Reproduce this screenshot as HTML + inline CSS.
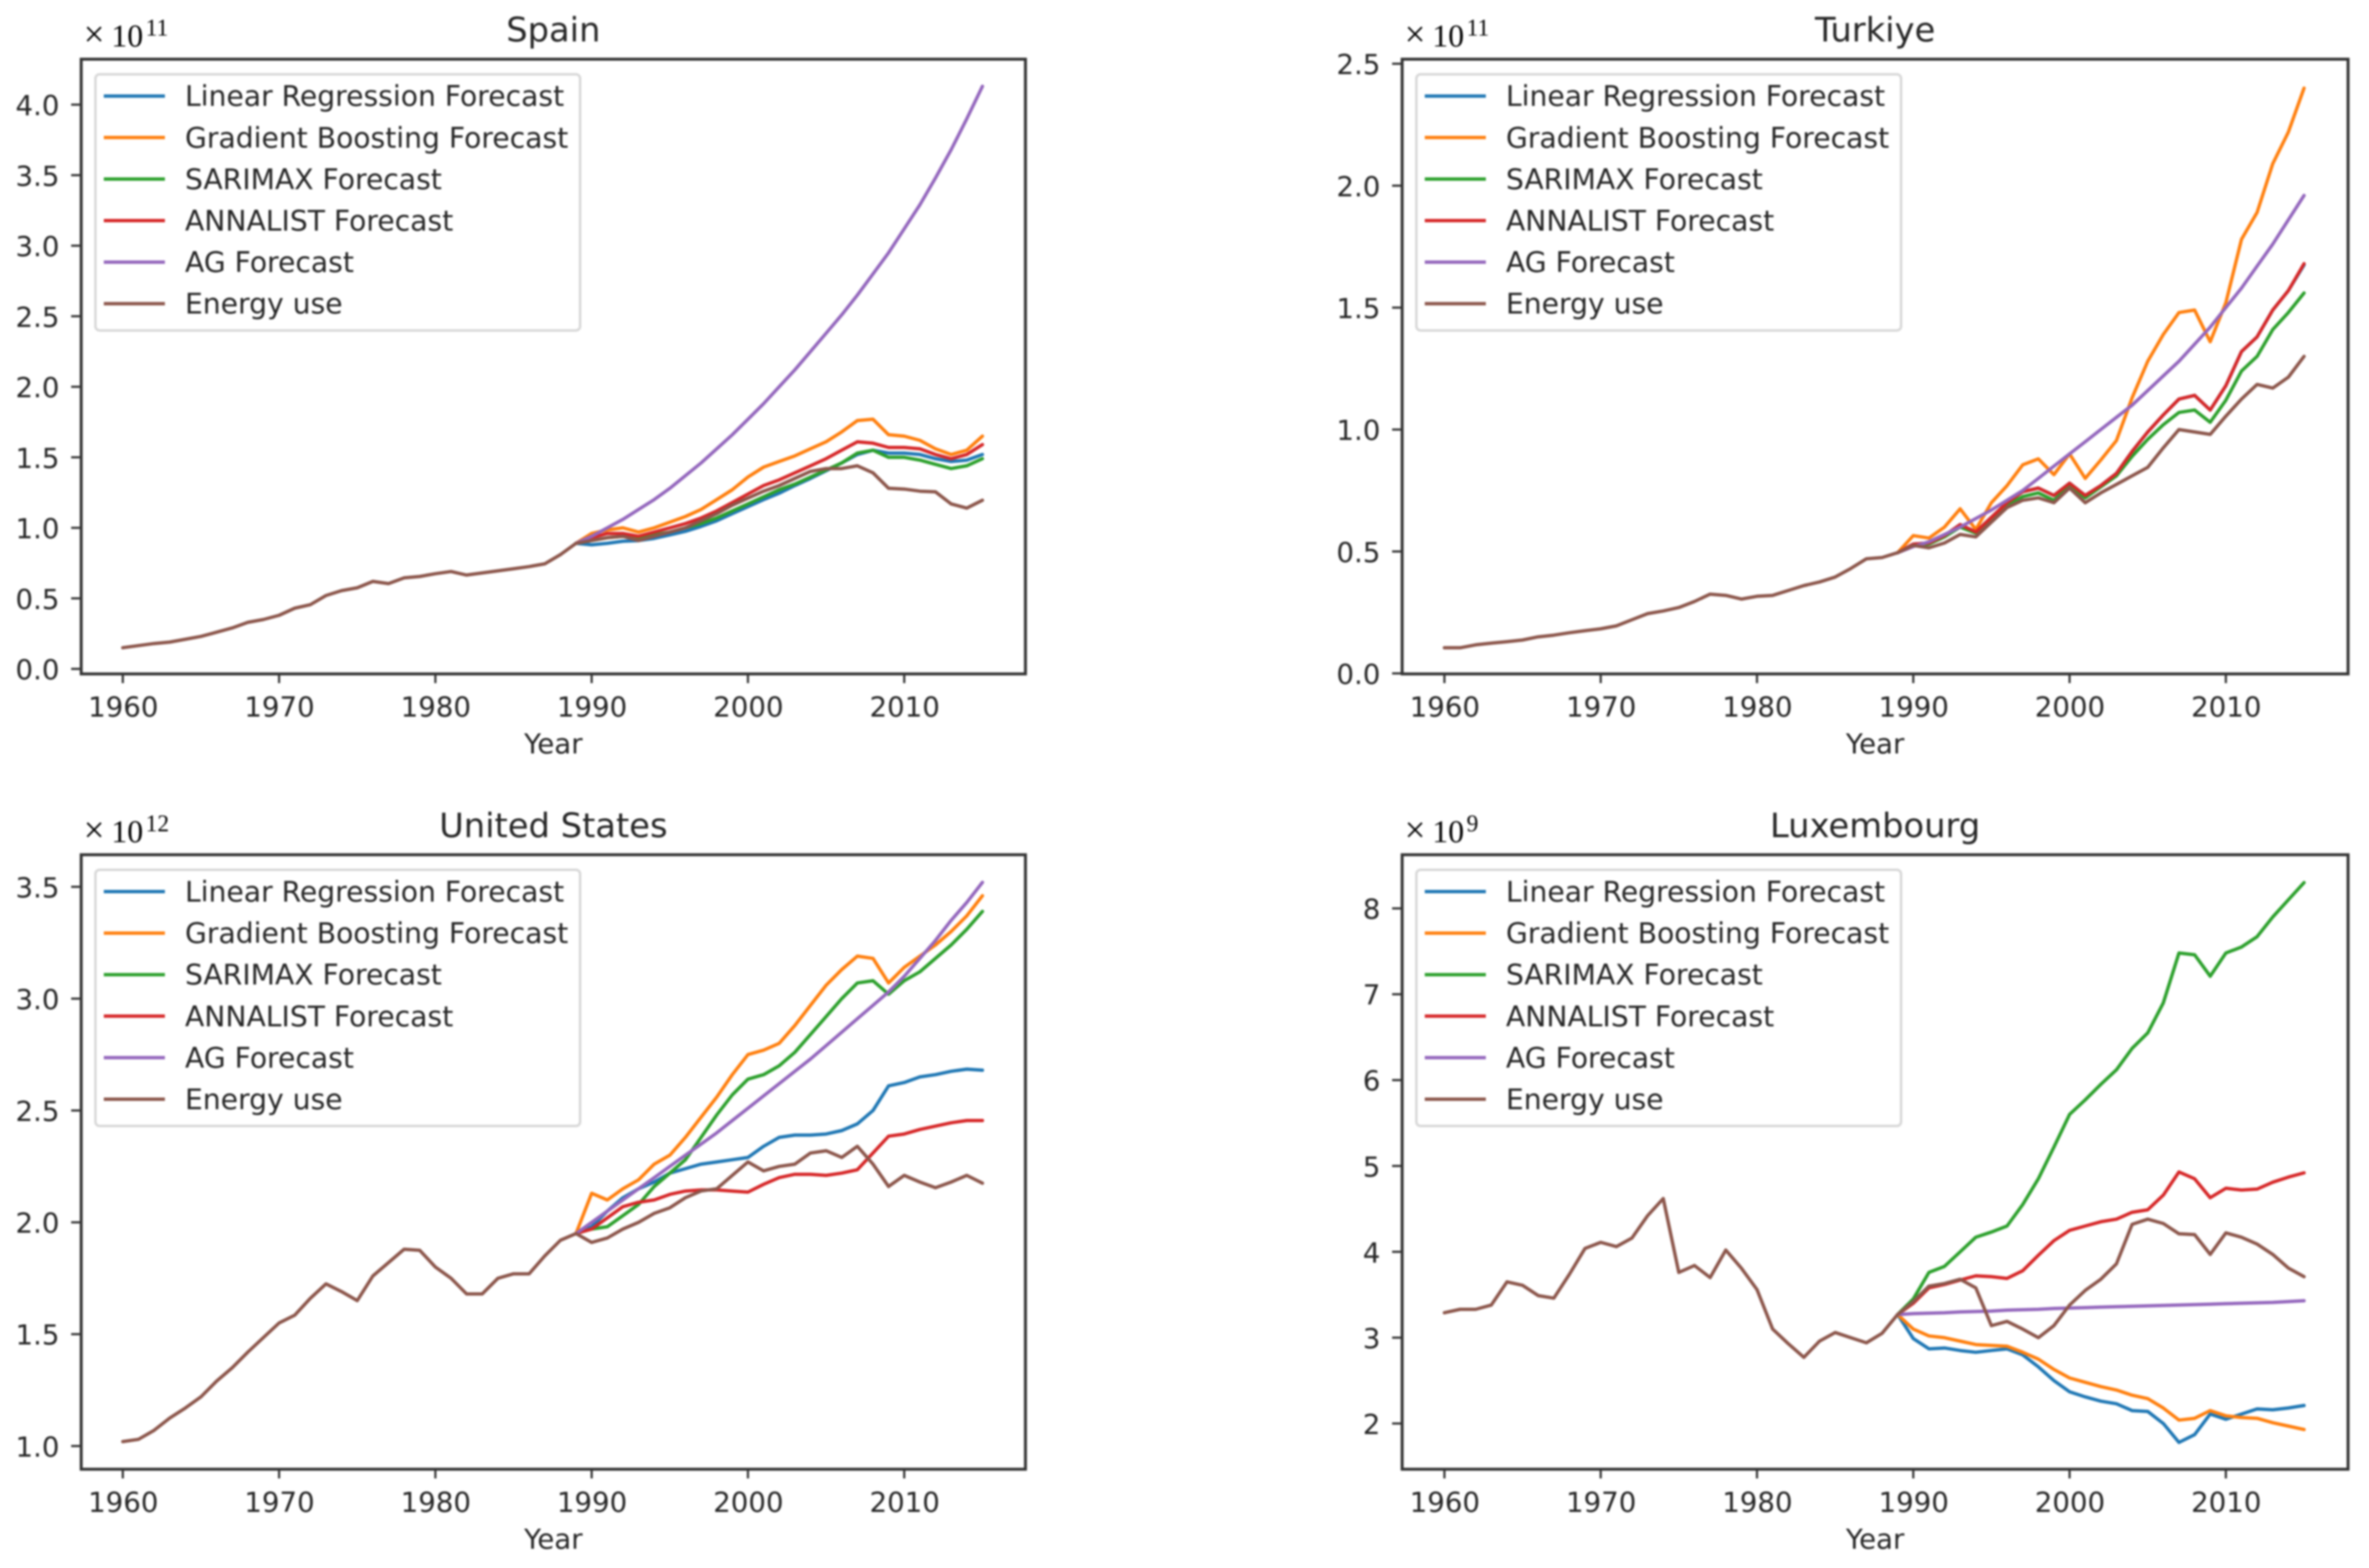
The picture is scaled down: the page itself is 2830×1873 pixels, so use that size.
<!DOCTYPE html>
<html lang="en">
<head>
<meta charset="utf-8">
<title>Energy use forecasts</title>
<style>
html,body{margin:0;padding:0;background:#fff;}
#figure{display:block;width:2830px;height:1873px;background:#fff;filter:blur(1px);}
text{font-family:"DejaVu Sans","Liberation Sans",sans-serif;fill:#262626;}
.mult{font-family:"Liberation Serif",serif;fill:#000;}
</style>
</head>
<body>
<svg id="figure" xmlns="http://www.w3.org/2000/svg" width="2830" height="1873" viewBox="0 0 2830 1873"></svg>
<script>
const years = [1960,1961,1962,1963,1964,1965,1966,1967,1968,1969,1970,1971,1972,1973,1974,1975,1976,1977,1978,1979,1980,1981,1982,1983,1984,1985,1986,1987,1988,1989,1990,1991,1992,1993,1994,1995,1996,1997,1998,1999,2000,2001,2002,2003,2004,2005,2006,2007,2008,2009,2010,2011,2012,2013,2014,2015];
const forecastYears = [1989,1990,1991,1992,1993,1994,1995,1996,1997,1998,1999,2000,2001,2002,2003,2004,2005,2006,2007,2008,2009,2010,2011,2012,2013,2014,2015];
const xTickLabels = [1960,1970,1980,1990,2000,2010];
const seriesNames = ["Linear Regression Forecast","Gradient Boosting Forecast","SARIMAX Forecast","ANNALIST Forecast","AG Forecast","Energy use"];

const spainTicks = ["0.0","0.5","1.0","1.5","2.0","2.5","3.0","3.5","4.0"];
const spainLinear = [0.89,0.88,0.89,0.905,0.91,0.925,0.95,0.975,1.01,1.05,1.10,1.15,1.20,1.245,1.30,1.35,1.405,1.46,1.52,1.55,1.53,1.53,1.52,1.49,1.47,1.48,1.52];
const spainGradient = [0.89,0.96,0.985,1.0,0.97,1.0,1.04,1.08,1.13,1.20,1.27,1.36,1.43,1.47,1.51,1.56,1.61,1.68,1.76,1.77,1.66,1.65,1.62,1.56,1.52,1.55,1.65];
const spainSarimax = [0.89,0.91,0.93,0.94,0.92,0.95,0.97,1.00,1.03,1.07,1.12,1.17,1.22,1.27,1.31,1.36,1.41,1.46,1.53,1.55,1.50,1.50,1.48,1.45,1.42,1.44,1.49];
const spainAnnalist = [0.89,0.93,0.96,0.96,0.94,0.97,1.00,1.03,1.07,1.12,1.18,1.24,1.30,1.34,1.39,1.44,1.49,1.55,1.61,1.60,1.57,1.57,1.56,1.52,1.49,1.52,1.59];
const spainAg = [0.89,0.94,1.0,1.06,1.13,1.2,1.28,1.37,1.46,1.56,1.66,1.77,1.88,2.0,2.12,2.25,2.38,2.51,2.65,2.80,2.95,3.12,3.29,3.48,3.68,3.90,4.13];
const spainEnergy = [0.15,0.165,0.18,0.19,0.21,0.23,0.26,0.29,0.33,0.35,0.38,0.43,0.455,0.52,0.555,0.575,0.62,0.605,0.645,0.655,0.675,0.69,0.665,0.68,0.695,0.71,0.725,0.745,0.81,0.89,0.91,0.93,0.94,0.91,0.94,0.97,1.00,1.05,1.10,1.16,1.21,1.26,1.30,1.35,1.40,1.42,1.42,1.44,1.39,1.28,1.275,1.26,1.255,1.17,1.14,1.195];

const turkiyeTicks = ["0.0","0.5","1.0","1.5","2.0","2.5"];
const turkiyeLinear = [0.495,0.53,0.535,0.565,0.61,0.58,0.64,0.70,0.745,0.76,0.73,0.78,0.73,0.77,0.82,0.91,0.99,1.06,1.125,1.14,1.08,1.18,1.32,1.38,1.49,1.57,1.675];
const turkiyeGradient = [0.495,0.565,0.555,0.60,0.675,0.59,0.70,0.77,0.855,0.88,0.815,0.90,0.80,0.875,0.955,1.13,1.28,1.39,1.48,1.49,1.36,1.52,1.78,1.89,2.09,2.22,2.40];
const turkiyeSarimax = [0.495,0.525,0.53,0.56,0.60,0.575,0.63,0.69,0.725,0.74,0.71,0.77,0.72,0.765,0.81,0.89,0.96,1.02,1.07,1.08,1.03,1.12,1.24,1.30,1.41,1.48,1.56];
const turkiyeAnnalist = [0.495,0.53,0.535,0.565,0.61,0.58,0.64,0.70,0.745,0.76,0.73,0.78,0.73,0.77,0.82,0.91,0.99,1.06,1.125,1.14,1.08,1.18,1.32,1.38,1.49,1.57,1.68];
const turkiyeAg = [0.495,0.52,0.54,0.57,0.60,0.635,0.67,0.71,0.75,0.80,0.85,0.90,0.95,1.0,1.05,1.10,1.16,1.22,1.28,1.35,1.42,1.50,1.58,1.67,1.76,1.86,1.96];
const turkiyeEnergy = [0.105,0.105,0.117,0.124,0.13,0.137,0.15,0.157,0.167,0.175,0.183,0.195,0.22,0.245,0.256,0.27,0.295,0.325,0.32,0.305,0.316,0.32,0.34,0.36,0.375,0.395,0.43,0.47,0.475,0.495,0.525,0.515,0.535,0.57,0.56,0.62,0.68,0.71,0.72,0.70,0.76,0.70,0.74,0.775,0.81,0.845,0.925,1.0,0.99,0.98,1.055,1.125,1.185,1.17,1.215,1.30];

const usTicks = ["1.0","1.5","2.0","2.5","3.0","3.5"];
const usLinear = [1.95,1.98,2.05,2.11,2.15,2.18,2.22,2.24,2.26,2.27,2.28,2.29,2.34,2.38,2.39,2.39,2.395,2.41,2.44,2.50,2.61,2.625,2.65,2.66,2.675,2.685,2.68];
const usGradient = [1.95,2.13,2.10,2.15,2.19,2.26,2.30,2.38,2.47,2.56,2.66,2.75,2.77,2.80,2.88,2.97,3.06,3.13,3.19,3.18,3.07,3.14,3.19,3.24,3.30,3.37,3.46];
const usSarimax = [1.95,1.97,1.98,2.03,2.08,2.16,2.22,2.28,2.38,2.48,2.57,2.64,2.66,2.70,2.76,2.84,2.92,3.00,3.07,3.08,3.02,3.08,3.12,3.18,3.24,3.31,3.39];
const usAnnalist = [1.95,1.97,2.02,2.07,2.09,2.10,2.125,2.14,2.145,2.145,2.14,2.135,2.17,2.20,2.215,2.215,2.21,2.22,2.235,2.31,2.385,2.395,2.415,2.43,2.445,2.455,2.455];
const usAg = [1.95,2.0,2.05,2.10,2.15,2.2,2.25,2.3,2.35,2.4,2.455,2.51,2.565,2.62,2.675,2.73,2.79,2.85,2.91,2.97,3.03,3.10,3.18,3.26,3.35,3.43,3.52];
const usEnergy = [1.02,1.03,1.07,1.125,1.17,1.22,1.29,1.35,1.42,1.485,1.55,1.585,1.66,1.725,1.69,1.65,1.76,1.82,1.88,1.875,1.80,1.75,1.68,1.68,1.75,1.77,1.77,1.85,1.92,1.95,1.91,1.93,1.97,2.0,2.04,2.065,2.11,2.14,2.15,2.21,2.27,2.23,2.25,2.26,2.31,2.32,2.29,2.34,2.26,2.16,2.21,2.18,2.155,2.18,2.21,2.175];

const luxTicks = ["2","3","4","5","6","7","8"];
const luxLinear = [3.27,2.99,2.87,2.88,2.85,2.83,2.85,2.87,2.80,2.66,2.50,2.37,2.31,2.26,2.23,2.15,2.14,2.00,1.78,1.87,2.11,2.05,2.11,2.17,2.16,2.18,2.21];
const luxGradient = [3.27,3.10,3.02,3.00,2.96,2.92,2.91,2.90,2.83,2.75,2.63,2.53,2.48,2.43,2.39,2.33,2.29,2.18,2.04,2.06,2.15,2.09,2.07,2.06,2.01,1.97,1.93];
const luxSarimax = [3.27,3.45,3.76,3.83,4.0,4.17,4.23,4.30,4.55,4.85,5.22,5.60,5.77,5.95,6.12,6.37,6.55,6.90,7.48,7.46,7.21,7.48,7.55,7.67,7.90,8.10,8.30];
const luxAnnalist = [3.27,3.40,3.58,3.62,3.67,3.72,3.71,3.69,3.78,3.96,4.13,4.25,4.30,4.35,4.38,4.46,4.49,4.66,4.93,4.85,4.63,4.74,4.72,4.73,4.81,4.87,4.92];
const luxAg = [3.27,3.28,3.285,3.29,3.30,3.305,3.31,3.32,3.325,3.33,3.34,3.345,3.35,3.355,3.36,3.365,3.37,3.375,3.38,3.385,3.39,3.395,3.40,3.405,3.41,3.42,3.43];
const luxEnergy = [3.29,3.33,3.33,3.38,3.65,3.61,3.49,3.46,3.74,4.04,4.11,4.06,4.16,4.42,4.62,3.76,3.84,3.70,4.02,3.81,3.56,3.10,2.93,2.77,2.96,3.06,3.00,2.94,3.05,3.27,3.42,3.60,3.63,3.68,3.58,3.14,3.19,3.10,3.00,3.14,3.38,3.55,3.68,3.86,4.32,4.38,4.33,4.21,4.20,3.97,4.22,4.17,4.09,3.97,3.81,3.71];

const seriesColors = ["#1f77b4","#ff7f0e","#2ca02c","#d62728","#9467bd","#8c564b"];
const NS = "http://www.w3.org/2000/svg";
const root = document.getElementById("figure");

const panels = [
  {slug:"spain", title:"Spain", exp:"11", left:97, top:70.7, W:1128, H:734.3, xA:146.7, tickBase:799, perUnit:168.5, tickStart:0, tickStep:0.5, ticks:spainTicks, forecasts:[spainLinear,spainGradient,spainSarimax,spainAnnalist,spainAg], energy:spainEnergy},
  {slug:"turkiye", title:"Turkiye", exp:"11", left:1675, top:70.7, W:1130, H:734.3, xA:1725.5, tickBase:804.4, perUnit:291.3, tickStart:0, tickStep:0.5, ticks:turkiyeTicks, forecasts:[turkiyeLinear,turkiyeGradient,turkiyeSarimax,turkiyeAnnalist,turkiyeAg], energy:turkiyeEnergy},
  {slug:"united-states", title:"United States", exp:"12", left:97, top:1021, W:1128, H:734, xA:146.7, tickBase:1727.3, perUnit:267.2, tickStart:1, tickStep:0.5, ticks:usTicks, forecasts:[usLinear,usGradient,usSarimax,usAnnalist,usAg], energy:usEnergy},
  {slug:"luxembourg", title:"Luxembourg", exp:"9", left:1675, top:1021, W:1130, H:734, xA:1725.5, tickBase:1700.4, perUnit:102.55, tickStart:2, tickStep:1, ticks:luxTicks, forecasts:[luxLinear,luxGradient,luxSarimax,luxAnnalist,luxAg], energy:luxEnergy}
];

function mk(tag, parent, attrs, txt){
  const el = document.createElementNS(NS, tag);
  for (const k in attrs) el.setAttribute(k, attrs[k]);
  if (txt !== undefined) el.textContent = txt;
  parent.appendChild(el);
  return el;
}

function drawPanel(p){
  const pxPerYear = 18.67;
  const xScale = y => p.xA + (y - 1960) * pxPerYear;
  const yScale = v => p.tickBase - (v - p.tickStart) * p.perUnit;
  const bottom = p.top + p.H;
  const cx = p.left + p.W / 2;

  const g = mk("g", root, {});
  
  

  const title = mk("text", g, {x:cx, y:p.top-21, "font-size":40.3, "text-anchor":"middle"}, p.title);
  
  

  const times = mk("text", g, {class:"mult", x:p.left+3, y:p.top-15, "font-size":44}, "×");
  
  
  const mult = mk("text", g, {class:"mult", x:p.left+36, y:p.top-15, "font-size":38}, "10");
  
  
  const sup = mk("text", g, {class:"mult", x:p.left+77, y:p.top-28, "font-size":28}, p.exp);
  
  

  const marks = mk("g", g, {fill:"none","stroke-width":4,"stroke-linejoin":"round","stroke-linecap":"round"});
  
  
  p.forecasts.forEach((vals, i) => {
    const line = mk("polyline", marks, {stroke:seriesColors[i], points:vals.map((v,j)=>xScale(forecastYears[j]).toFixed(1)+","+yScale(v).toFixed(1)).join(" ")});
    
    
  });
  const eLine = mk("polyline", marks, {stroke:seriesColors[5], points:p.energy.map((v,j)=>xScale(years[j]).toFixed(1)+","+yScale(v).toFixed(1)).join(" ")});
  
  

  const frame = mk("rect", g, {x:p.left, y:p.top, width:p.W, height:p.H, fill:"none", stroke:"#333", "stroke-width":3.5});
  
  

  xTickLabels.forEach(t => {
    const x = xScale(t);
    const tick = mk("line", g, {x1:x, x2:x, y1:bottom, y2:bottom+11, stroke:"#333", "stroke-width":2.6});
    
    
    const lab = mk("text", g, {x:x+0.5, y:bottom+51, "font-size":33, "text-anchor":"middle"}, String(t));
    
    
  });
  p.ticks.forEach((t, i) => {
    const y = yScale(p.tickStart + i * p.tickStep);
    const tick = mk("line", g, {x1:p.left-12, x2:p.left, y1:y, y2:y, stroke:"#333", "stroke-width":2.6});
    
    
    const lab = mk("text", g, {x:p.left-26, y:y+12.5, "font-size":33, "text-anchor":"end"}, t);
    
    
  });

  const xTitle = mk("text", g, {x:cx, y:bottom+95, "font-size":33, "text-anchor":"middle"}, "Year");
  
  

  const legend = mk("g", g, {});
  
  
  const lx = p.left + 17, ly = p.top + 18;
  const box = mk("rect", legend, {x:lx, y:ly, width:579, height:306, rx:5, fill:"#fff", stroke:"#d8d8d8", "stroke-width":3});
  
  
  seriesNames.forEach((name, i) => {
    const cy = ly + 26 + i * 49.6;
    const entry = mk("g", legend, {});
    
    
    const h = mk("line", entry, {x1:lx+10, x2:lx+83, y1:cy, y2:cy, stroke:seriesColors[i], "stroke-width":4});
    
    
    const t = mk("text", entry, {x:lx+107, y:cy+12, "font-size":33.7}, name);
    
    
  });
}
panels.forEach(drawPanel);
</script>
</body>
</html>
